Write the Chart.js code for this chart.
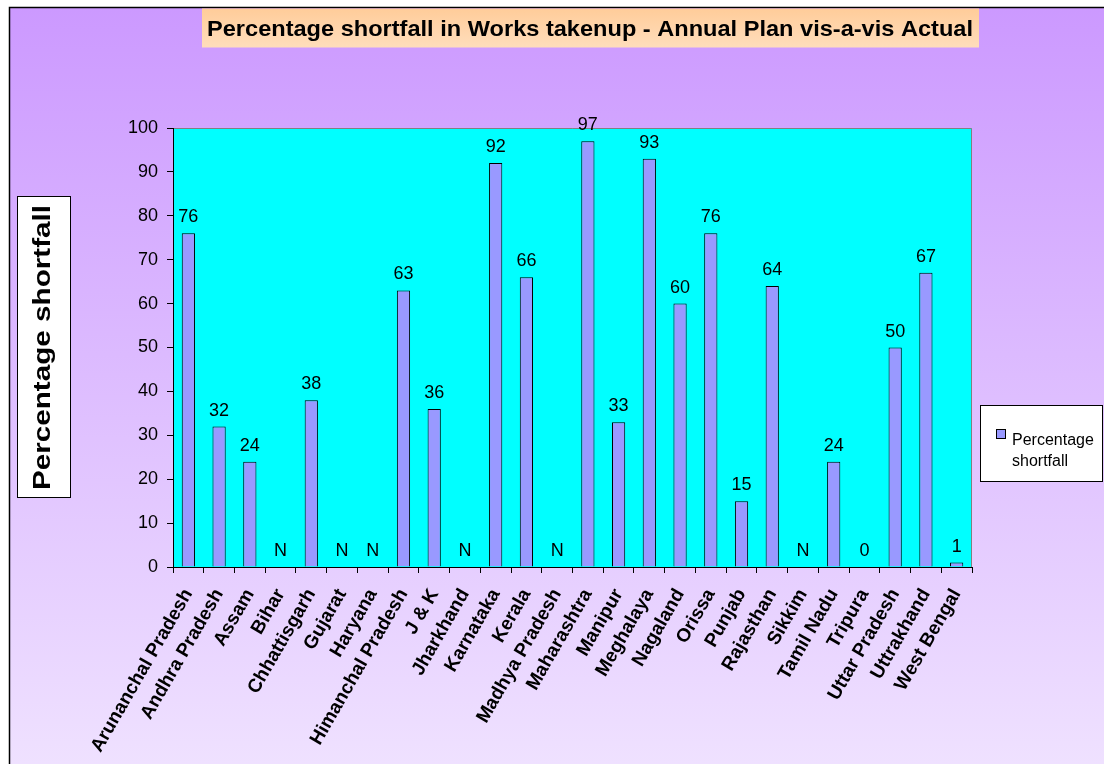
<!DOCTYPE html>
<html><head><meta charset="utf-8">
<script src="https://cdn.jsdelivr.net/npm/chart.js@4"></script>
<style>html,body{margin:0;padding:0;background:#fff}#wrap{position:relative;width:1104px;height:764px}</style>
</head><body><div id="wrap"><canvas id="c" width="1104" height="764"></canvas></div>
<script>
const categories = ['Arunanchal Pradesh','Andhra Pradesh','Assam','Bihar','Chhattisgarh','Gujarat','Haryana','Himanchal Pradesh','J & K','Jharkhand','Karnataka','Kerala','Madhya Pradesh','Maharashtra','Manipur','Meghalaya','Nagaland','Orissa','Punjab','Rajasthan','Sikkim','Tamil Nadu','Tripura','Uttar Pradesh','Uttrakhand','West Bengal'];
const shortfall = [76,32,24,null,38,null,null,63,36,null,92,66,null,97,33,93,60,76,15,64,null,24,0,50,67,1];
const missingLabel = 'N';
const yMin = 0, yMax = 100, yStep = 10;
const chartTitle = 'Percentage shortfall in Works takenup - Annual Plan vis-a-vis Actual';
const yAxisTitle = 'Percentage shortfall';
const seriesName = 'Percentage shortfall';

const FONT = '"Liberation Sans", Arial, sans-serif';

function fitText(ctx, text, x, y, targetW, align) {
  const w = ctx.measureText(text).width;
  const sx = targetW / w;
  ctx.save();
  ctx.translate(x, y);
  ctx.scale(sx, 1);
  ctx.textAlign = align || 'left';
  ctx.fillText(text, 0, 0);
  ctx.restore();
}

const decor = {
  id: 'decor',
  beforeDraw(chart) {
    const ctx = chart.ctx, W = chart.width, H = chart.height;
    ctx.save();
    ctx.fillStyle = '#ffffff';
    ctx.fillRect(0, 0, W, H);
    const g = ctx.createLinearGradient(0, 8, 0, H);
    g.addColorStop(0, '#CC99FF');
    g.addColorStop(1, '#EFE1FF');
    ctx.fillStyle = g;
    ctx.fillRect(10, 8, W - 10, H - 8);
    ctx.strokeStyle = '#000';
    ctx.lineWidth = 1.5;
    ctx.beginPath();
    ctx.moveTo(9.5, H); ctx.lineTo(9.5, 7.5); ctx.lineTo(W, 7.5);
    ctx.stroke();
    // title box
    const tg = ctx.createLinearGradient(0, 8, 0, 47);
    tg.addColorStop(0, '#FFCC99');
    tg.addColorStop(1, '#FFDDBB');
    ctx.fillStyle = tg;
    ctx.fillRect(202, 8.5, 777, 39);
    // plot background
    const a = chart.chartArea;
    ctx.fillStyle = '#00FFFF';
    ctx.fillRect(a.left, a.top, a.right - a.left, a.bottom - a.top);
    ctx.strokeStyle = '#808080';
    ctx.lineWidth = 1;
    ctx.beginPath();
    ctx.moveTo(a.left, a.top + 0.5); ctx.lineTo(a.right - 0.5, a.top + 0.5); ctx.lineTo(a.right - 0.5, a.bottom);
    ctx.stroke();
    ctx.restore();
  },
  afterDatasetsDraw(chart) {
    const ctx = chart.ctx;
    const xs = chart.scales.x, ys = chart.scales.y;
    ctx.save();
    ctx.fillStyle = '#000';
    ctx.font = '18px ' + FONT;
    ctx.textAlign = 'center';
    ctx.textBaseline = 'alphabetic';
    shortfall.forEach((v, i) => {
      const x = xs.getPixelForValue(i);
      const y = ys.getPixelForValue(v === null ? 0 : v) - 11;
      ctx.fillText(v === null ? missingLabel : String(v), x, y);
    });
    ctx.restore();
  },
  afterDraw(chart) {
    const ctx = chart.ctx;
    ctx.save();
    ctx.fillStyle = '#000';
    // title
    ctx.font = 'bold 22px ' + FONT;
    ctx.textBaseline = 'alphabetic';
    fitText(ctx, chartTitle, 207, 36, 766, 'left');
    // y axis title box
    ctx.fillStyle = '#fff';
    ctx.fillRect(17, 196, 54, 302);
    ctx.strokeStyle = '#000';
    ctx.lineWidth = 1;
    ctx.strokeRect(17.5, 196.5, 53, 301);
    ctx.fillStyle = '#000';
    ctx.save();
    ctx.translate(50, 490);
    ctx.rotate(-Math.PI / 2);
    ctx.font = 'bold 24px ' + FONT;
    fitText(ctx, yAxisTitle, 0, 0, 285, 'left');
    ctx.restore();
    // legend
    ctx.fillStyle = '#fff';
    ctx.fillRect(980, 405, 123, 77);
    ctx.strokeRect(980.5, 405.5, 122, 76);
    ctx.fillStyle = '#9999FF';
    ctx.fillRect(996, 429, 10, 10);
    ctx.strokeRect(996.5, 429.5, 9, 9);
    ctx.fillStyle = '#000';
    ctx.font = '16px ' + FONT;
    const parts = seriesName.split(' ');
    ctx.textAlign = 'left';
    ctx.fillText(parts[0], 1012, 445);
    ctx.fillText(parts.slice(1).join(' '), 1012, 466);
    ctx.restore();
  }
};

new Chart(document.getElementById('c'), {
  type: 'bar',
  data: {
    labels: categories,
    datasets: [{
      label: seriesName,
      data: shortfall,
      backgroundColor: '#9999FF',
      borderColor: '#000000',
      borderWidth: 1,
      barPercentage: 0.43,
      categoryPercentage: 1.0
    }]
  },
  options: {
    responsive: false,
    animation: false,
    devicePixelRatio: 1,
    layout: { padding: { left: 100, right: 132, top: 128, bottom: 0 } },
    plugins: { legend: { display: false }, title: { display: false }, tooltip: { enabled: false } },
    scales: {
      x: {
        grid: { display: true, drawOnChartArea: false, drawTicks: true, tickLength: 6, color: '#000', offset: true },
        border: { display: true, color: '#000', width: 1 },
        ticks: { autoSkip: false, minRotation: 60, maxRotation: 60, color: '#000', padding: 12,
                 font: { family: FONT, size: 19, weight: 'bold' } },
        afterFit(s) { s.height = 197; }
      },
      y: {
        min: yMin, max: yMax,
        grid: { display: true, drawOnChartArea: false, drawTicks: true, tickLength: 6, color: '#000' },
        border: { display: true, color: '#000', width: 1 },
        ticks: { stepSize: yStep, color: '#000', padding: 9, font: { family: FONT, size: 18 } },
        afterFit(s) { s.width = 73; }
      }
    }
  },
  plugins: [decor]
});
</script></body></html>
